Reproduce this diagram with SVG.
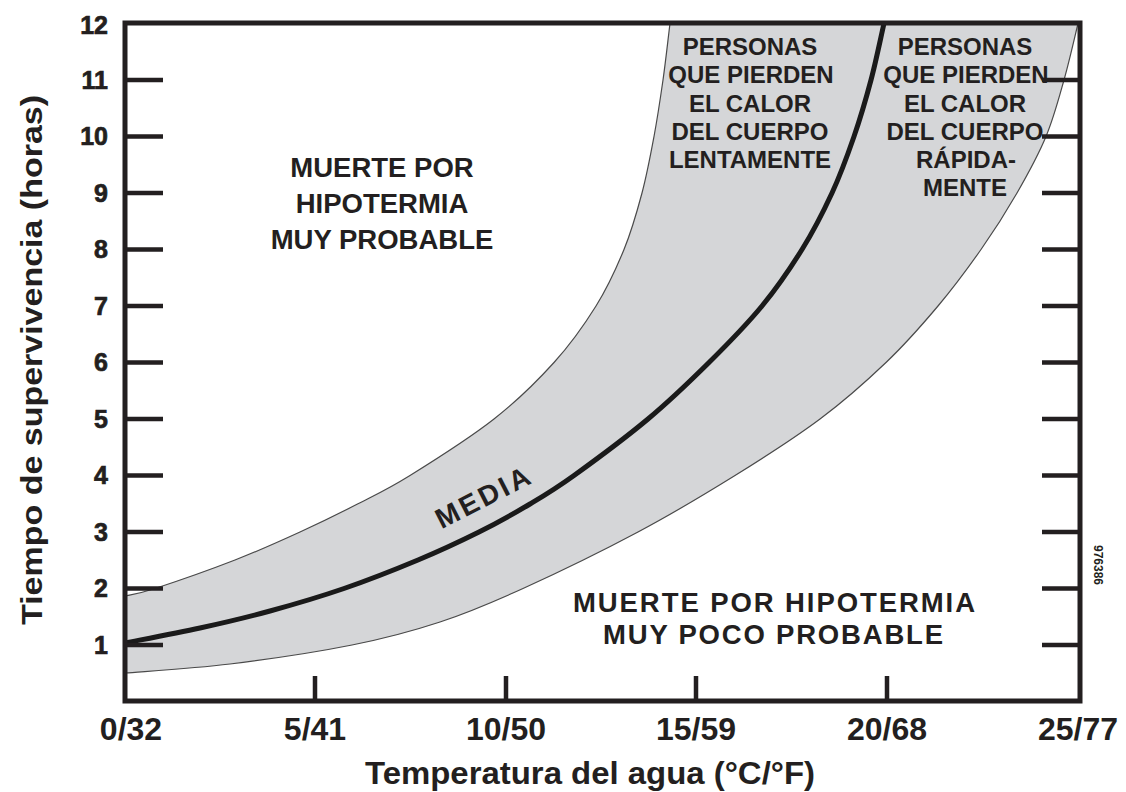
<svg xmlns="http://www.w3.org/2000/svg" width="1126" height="792" viewBox="0 0 1126 792">
<style>
text{font-family:"Liberation Sans",Arial,Helvetica,sans-serif;font-weight:bold;fill:#231f20}
.num{font-size:25px;text-anchor:end;stroke:#231f20;stroke-width:0.7}
.xl{font-size:32px;text-anchor:middle}
.lab{font-size:27.5px;text-anchor:middle}
.small{font-size:24px;text-anchor:middle}
.tick{stroke:#231f20;stroke-width:4.5;fill:none}
.edge{stroke:#4a4a4a;stroke-width:1.2;fill:none}
</style>
<defs>
<clipPath id="plot"><rect x="125" y="23" width="955" height="678"/></clipPath>
</defs>
<rect width="1126" height="792" fill="#ffffff"/>
<g id="band" clip-path="url(#plot)">
<path fill="#d5d6d8" d="M125,596 C130,594.75 136.7,594.5 155,588.5 C173.3,582.5 210.8,569.4 235,560 C259.2,550.6 279.5,541.4 300,532 C320.5,522.6 339.7,513.2 358,503.8 C376.3,494.4 387.3,489.6 410,475.5 C432.7,461.4 470,437.8 494,419 C518,400.2 537,381.3 554,362.5 C571,343.7 584.3,324.8 596,306 C607.7,287.2 616.3,268.3 624,249.5 C631.7,230.7 637,211.8 642,193 C647,174.2 650.5,155.3 654,136.5 C657.5,117.7 660.3,98.8 663,80 C665.7,61.2 668.3,36.8 670,23.5 L673,0 L1083,0 L1078,23.5 C1074.8,36.8 1069.3,61.2 1064,80 C1058.7,98.8 1053.8,117.7 1046,136.5 C1038.2,155.3 1027.8,174.2 1017,193 C1006.2,211.8 994.2,230.7 981,249.5 C967.8,268.3 953.8,287.2 938,306 C922.2,324.8 905.7,343.7 886,362.5 C866.3,381.3 845.2,400.2 820,419 C794.8,437.8 765.3,456.7 735,475.5 C704.7,494.3 673.3,513.2 638,532 C602.7,550.8 556,573.5 523,588.5 C490,603.5 468.5,612.6 440,622 C411.5,631.4 387,638 352,645 C317,652 267.8,659.3 230,664 C192.2,668.7 142.5,671.5 125,673 Z"/>
<path class="edge" d="M125,596 C130,594.75 136.7,594.5 155,588.5 C173.3,582.5 210.8,569.4 235,560 C259.2,550.6 279.5,541.4 300,532 C320.5,522.6 339.7,513.2 358,503.8 C376.3,494.4 387.3,489.6 410,475.5 C432.7,461.4 470,437.8 494,419 C518,400.2 537,381.3 554,362.5 C571,343.7 584.3,324.8 596,306 C607.7,287.2 616.3,268.3 624,249.5 C631.7,230.7 637,211.8 642,193 C647,174.2 650.5,155.3 654,136.5 C657.5,117.7 660.3,98.8 663,80 C665.7,61.2 668.3,36.8 670,23.5 L673,0"/>
<path class="edge" d="M125,673 C142.5,671.5 192.2,668.7 230,664 C267.8,659.3 317,652 352,645 C387,638 411.5,631.4 440,622 C468.5,612.6 490,603.5 523,588.5 C556,573.5 602.7,550.8 638,532 C673.3,513.2 704.7,494.3 735,475.5 C765.3,456.7 794.8,437.8 820,419 C845.2,400.2 866.3,381.3 886,362.5 C905.7,343.7 922.2,324.8 938,306 C953.8,287.2 967.8,268.3 981,249.5 C994.2,230.7 1006.2,211.8 1017,193 C1027.8,174.2 1038.2,155.3 1046,136.5 C1053.8,117.7 1058.7,98.8 1064,80 C1069.3,61.2 1074.8,36.8 1078,23.5 L1083,0"/>
</g>
<g id="labels-top">
<text class="small" x="750" y="55">PERSONAS</text>
<text class="small" x="751" y="83">QUE PIERDEN</text>
<text class="small" x="750" y="112">EL CALOR</text>
<text class="small" x="750" y="140">DEL CUERPO</text>
<text class="small" x="750" y="168">LENTAMENTE</text>
<text class="small" x="965" y="55">PERSONAS</text>
<text class="small" x="966" y="83">QUE PIERDEN</text>
<text class="small" x="965" y="112">EL CALOR</text>
<text class="small" x="965" y="140">DEL CUERPO</text>
<text class="small" x="966" y="168">RÁPIDA-</text>
<text class="small" x="965" y="196">MENTE</text>
</g>
<g id="media" clip-path="url(#plot)">
<path fill="none" stroke="#1a1a1a" stroke-width="5" d="M125,643 C137.5,640.5 175.8,633.3 200,628 C224.2,622.7 246,617.6 270,611 C294,604.4 319.3,597 344,588.5 C368.7,580 395.5,569.4 418,560 C440.5,550.6 460.3,541.3 479,532 C497.7,522.7 514.2,513.4 530,504 C545.8,494.6 554.3,489.7 574,475.5 C593.7,461.3 625.5,437.8 648,419 C670.5,400.2 690,381.3 709,362.5 C728,343.7 746.5,324.8 762,306 C777.5,287.2 790.3,268.3 802,249.5 C813.7,230.7 823.3,211.8 832,193 C840.7,174.2 847.5,155.3 854,136.5 C860.5,117.7 866,98.8 871,80 C876,61.2 881,36.5 884,23.5 L889,2"/>
</g>
<g id="frame">
<rect x="125" y="23" width="955" height="678" fill="none" stroke="#231f20" stroke-width="5"/>
<path class="tick" d="M125,645H163M125,588.5H163M125,532H163M125,475.5H163M125,419H163M125,362.5H163M125,306H163M125,249.5H163M125,193H163M125,136.5H163M125,80H163"/>
<path class="tick" d="M1042,645H1080M1042,588.5H1080M1042,532H1080M1042,475.5H1080M1042,419H1080M1042,362.5H1080M1042,306H1080M1042,249.5H1080M1042,193H1080M1042,136.5H1080M1042,80H1080"/>
<path class="tick" d="M315,701V676M506,701V676M696,701V676M887,701V676"/>
</g>
<g id="y-axis">
<text class="num" x="108" y="34">12</text>
<text class="num" x="108" y="89">11</text>
<text class="num" x="108" y="145">10</text>
<text class="num" x="108" y="202">9</text>
<text class="num" x="108" y="258">8</text>
<text class="num" x="108" y="315">7</text>
<text class="num" x="108" y="371">6</text>
<text class="num" x="108" y="428">5</text>
<text class="num" x="108" y="484">4</text>
<text class="num" x="108" y="541">3</text>
<text class="num" x="108" y="597">2</text>
<text class="num" x="108" y="654">1</text>
<text transform="translate(42,360) rotate(-90)" font-size="30" text-anchor="middle" textLength="530" lengthAdjust="spacingAndGlyphs">Tiempo de supervivencia (horas)</text>
</g>
<g id="x-axis">
<text class="xl" x="131" y="740">0/32</text>
<text class="xl" x="315" y="740">5/41</text>
<text class="xl" x="506" y="740">10/50</text>
<text class="xl" x="696" y="740">15/59</text>
<text class="xl" x="887" y="740">20/68</text>
<text class="xl" x="1078" y="740">25/77</text>
<text x="590" y="784" font-size="32" text-anchor="middle" textLength="450" lengthAdjust="spacingAndGlyphs">Temperatura del agua (°C/°F)</text>
</g>
<g id="zone-probable">
<text class="lab" x="382" y="177">MUERTE POR</text>
<text class="lab" x="382" y="213">HIPOTERMIA</text>
<text class="lab" x="382" y="249">MUY PROBABLE</text>
</g>
<g id="zone-improbable">
<text class="lab" x="774" y="612" font-size="28" textLength="402">MUERTE POR HIPOTERMIA</text>
<text class="lab" x="773" y="644" font-size="28" textLength="340">MUY POCO PROBABLE</text>
</g>
<g id="media-label">
<text transform="translate(487,506) rotate(-27)" font-size="28" text-anchor="middle" textLength="102">MEDIA</text>
</g>
<g id="code">
<text transform="translate(1094,565) rotate(90)" font-size="12" text-anchor="middle" font-weight="normal">976386</text>
</g>
</svg>
